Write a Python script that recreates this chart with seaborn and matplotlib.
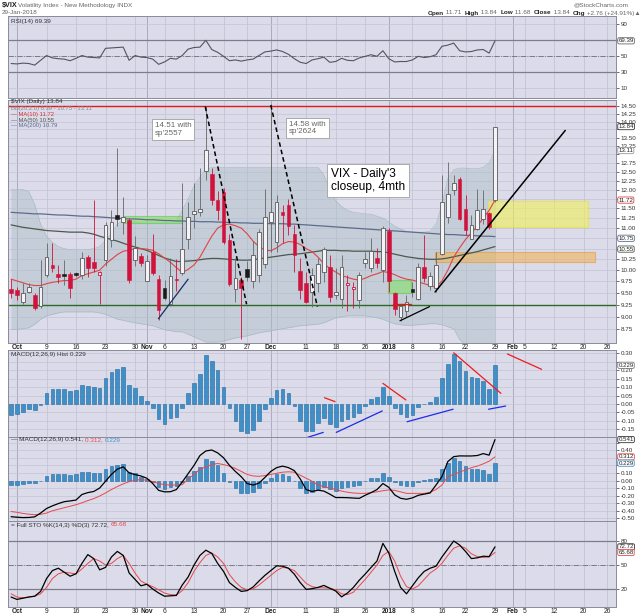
import numpy as np
import pandas as pd
import matplotlib
matplotlib.use("Agg")
import matplotlib.pyplot as plt
import seaborn as sns
from matplotlib.patches import Rectangle
from matplotlib.ticker import FixedLocator, NullLocator, FuncFormatter

sns.set_theme(style="white")
plt.rcParams['font.family'] = ['Liberation Sans', 'DejaVu Sans']

# ---------------- data (trading-day index: 0 = 2 Oct 2017, 81 = 29 Jan 2018) ----------------
bar_idx = list(range(-1, 82))

opens = [9.58, 9.56, 9.30, 9.51, 9.46, 9.22, 9.89, 10.12, 9.91, 9.90, 9.92, 9.93, 9.89, 10.31, 10.19, 9.89,
         10.23, 10.71, 11.32, 11.15, 11.20, 10.24, 10.33, 9.77, 10.41, 9.80, 9.61, 9.26, 9.80, 9.93, 10.74,
         11.35, 11.41, 12.52, 12.44, 11.72, 11.93, 10.70, 9.59, 9.79, 10.03, 9.75, 9.90, 10.14, 11.16, 10.67,
         11.40, 11.60, 10.86, 9.99, 9.72, 9.52, 9.71, 9.97, 10.08, 9.45, 9.37, 9.67, 9.58, 9.35, 10.16, 10.05,
         10.27, 10.01, 10.93, 9.49, 9.00, 9.12, 9.58, 9.37, 10.08, 9.65, 9.60, 10.38, 11.28, 11.98, 12.29,
         11.48, 10.74, 10.97, 11.23, 11.38, 11.71]
highs = [9.80, 9.62, 9.71, 9.71, 9.49, 10.23, 10.64, 10.64, 10.12, 10.23, 9.97, 9.97, 10.43, 10.35, 11.73, 9.99,
         11.15, 11.45, 13.18, 11.79, 11.25, 10.80, 10.40, 10.35, 10.85, 9.89, 9.78, 10.27, 10.25, 12.17, 11.68,
         12.17, 12.60, 14.51, 12.60, 11.95, 12.05, 10.85, 10.27, 9.85, 10.20, 10.68, 10.98, 12.03, 14.58, 11.86,
         11.59, 11.76, 11.08, 10.27, 9.97, 10.05, 10.27, 10.55, 10.35, 10.05, 10.35, 9.89, 9.74, 9.97, 10.43,
         10.75, 10.51, 11.04, 11.00, 9.52, 9.26, 9.45, 9.74, 10.16, 10.83, 9.97, 10.43, 12.40, 12.78, 12.40,
         12.36, 11.86, 11.33, 12.03, 11.99, 11.40, 13.84]
lows = [9.40, 9.34, 9.26, 9.49, 9.13, 9.19, 9.85, 9.95, 9.71, 9.67, 9.40, 9.85, 9.81, 9.85, 9.95, 9.26,
        10.10, 10.55, 11.05, 10.85, 9.72, 10.10, 10.10, 9.75, 9.89, 8.93, 9.35, 9.22, 9.55, 9.89, 10.50,
        11.00, 11.30, 12.27, 11.60, 11.20, 10.60, 9.65, 9.31, 8.56, 9.75, 9.60, 9.74, 10.05, 10.43, 10.43,
        10.63, 10.83, 9.97, 9.37, 9.28, 9.21, 9.52, 9.74, 9.31, 9.37, 9.19, 9.11, 9.19, 9.19, 10.05,
        9.97, 10.05, 9.74, 9.52, 9.04, 8.92, 8.99, 9.42, 9.35, 9.74, 9.56, 9.52, 10.35, 11.14, 11.86,
        11.20, 10.83, 10.74, 10.95, 11.10, 10.98, 11.68]
closes = [9.49, 9.45, 9.50, 9.62, 9.19, 9.62, 10.31, 10.05, 9.84, 9.88, 9.61, 9.90, 10.27, 10.06, 10.04, 9.97,
          11.08, 11.16, 11.23, 11.27, 9.78, 10.51, 10.17, 10.20, 9.93, 9.14, 9.40, 9.87, 9.78, 10.49, 11.28,
          11.43, 11.48, 13.12, 11.72, 11.45, 10.66, 9.70, 9.82, 9.60, 9.84, 10.35, 10.90, 11.28, 11.40, 11.66,
          11.33, 11.04, 10.35, 9.56, 9.31, 9.89, 10.14, 10.50, 9.42, 9.53, 10.08, 9.72, 9.62, 9.89, 10.25,
          10.45, 10.16, 11.01, 9.77, 9.15, 9.22, 9.30, 9.52, 10.07, 9.82, 9.88, 10.12, 11.66, 11.88, 12.19,
          11.24, 10.96, 11.09, 11.45, 11.49, 11.02, 13.84]

ma10 = [9.80, 9.76, 9.72, 9.68, 9.66, 9.66, 9.70, 9.73, 9.75, 9.77, 9.77, 9.80, 9.88, 9.92, 9.96, 10.00,
        10.14, 10.25, 10.36, 10.44, 10.46, 10.50, 10.50, 10.49, 10.46, 10.38, 10.28, 10.18, 10.06, 9.95, 10.02,
        10.12, 10.30, 10.55, 10.80, 11.00, 11.08, 11.10, 11.06, 11.00, 10.86, 10.68, 10.55, 10.47, 10.45, 10.52,
        10.62, 10.67, 10.66, 10.60, 10.50, 10.43, 10.30, 10.15, 10.04, 9.96, 9.88, 9.84, 9.80, 9.78, 9.82,
        9.88, 9.92, 9.97, 9.95, 9.90, 9.84, 9.80, 9.78, 9.74, 9.70, 9.66, 9.62, 9.76, 10.00, 10.30,
        10.52, 10.72, 10.88, 11.05, 11.25, 11.45, 11.72]
ma50 = [11.08, 11.05, 11.02, 11.00, 10.98, 10.96, 10.94, 10.93, 10.92, 10.91, 10.90, 10.90, 10.90, 10.88, 10.85,
        10.80, 10.76, 10.72, 10.68, 10.63, 10.58, 10.54, 10.50, 10.46, 10.40, 10.34, 10.28, 10.24, 10.20, 10.20,
        10.21, 10.22, 10.24, 10.26, 10.27, 10.27, 10.26, 10.25, 10.24, 10.23, 10.23, 10.24, 10.26, 10.28, 10.30,
        10.32, 10.34, 10.36, 10.37, 10.38, 10.40, 10.42, 10.44, 10.46, 10.46, 10.46, 10.45, 10.45, 10.44, 10.44,
        10.44, 10.44, 10.43, 10.43, 10.40, 10.37, 10.34, 10.31, 10.29, 10.27, 10.26, 10.25, 10.25, 10.26, 10.28,
        10.31, 10.34, 10.37, 10.40, 10.43, 10.47, 10.51, 10.55]
ma200 = [11.40, 11.39, 11.38, 11.37, 11.36, 11.36, 11.35, 11.34, 11.33, 11.33, 11.32, 11.31, 11.30, 11.30, 11.29,
         11.28, 11.27, 11.26, 11.25, 11.24, 11.23, 11.23, 11.22, 11.21, 11.21, 11.20, 11.19, 11.19, 11.18, 11.18,
         11.17, 11.17, 11.16, 11.16, 11.16, 11.15, 11.15, 11.14, 11.14, 11.13, 11.13, 11.12, 11.12, 11.12, 11.11,
         11.11, 11.11, 11.10, 11.10, 11.09, 11.08, 11.07, 11.06, 11.05, 11.04, 11.03, 11.02, 11.01, 11.00, 10.99,
         10.98, 10.97, 10.96, 10.95, 10.94, 10.93, 10.92, 10.91, 10.90, 10.89, 10.88, 10.87, 10.86, 10.85, 10.84,
         10.84, 10.83, 10.82, 10.82, 10.81, 10.80, 10.80, 10.79]
bb_upper = [12.00, 12.00, 12.00, 11.95, 11.60, 11.10, 10.80, 10.65, 10.55, 10.50, 10.48, 10.47, 10.47, 10.48, 10.50,
            10.55, 10.70, 10.87, 11.10, 11.18, 11.18, 11.16, 11.15, 11.15, 11.15, 11.15, 11.15, 11.15, 11.20, 11.45,
            11.75, 12.10, 12.35, 12.55, 12.62, 12.62, 12.62, 12.62, 12.62, 12.62, 12.62, 12.62, 12.62, 12.62, 12.62,
            12.62, 12.62, 12.62, 12.62, 12.62, 12.62, 12.62, 12.62, 12.40, 12.00, 11.70, 11.55, 11.45, 11.40, 11.38,
            11.36, 11.35, 11.30, 11.25, 11.15, 11.05, 10.98, 10.92, 10.90, 10.90, 10.90, 10.92, 11.10, 11.60, 12.30,
            12.55, 12.60, 12.60, 12.58, 12.58, 12.62, 12.75, 13.11]
bb_lower = [8.75, 8.75, 8.76, 8.78, 8.85, 8.95, 9.02, 9.05, 9.08, 9.10, 9.10, 9.10, 9.10, 9.10, 9.10,
            9.08, 9.05, 9.00, 8.95, 8.93, 8.90, 8.88, 8.86, 8.84, 8.82, 8.78, 8.74, 8.72, 8.70, 8.70,
            8.65, 8.60, 8.55, 8.50, 8.50, 8.50, 8.52, 8.55, 8.58, 8.60, 8.62, 8.65, 8.68, 8.70, 8.72,
            8.74, 8.76, 8.78, 8.80, 8.82, 8.83, 8.84, 8.85, 8.88, 8.93, 8.98, 9.00, 9.02, 9.02, 9.02,
            9.02, 9.00, 8.98, 8.95, 8.90, 8.86, 8.84, 8.83, 8.83, 8.84, 8.85, 8.86, 8.86, 8.84, 8.80,
            8.76, 8.55, 8.45, 8.42, 8.40, 8.39, 8.39, 8.39]

rsi = [41, 40.5, 41.5, 41, 39, 45, 51, 48, 47, 46.5, 44.5, 47.5, 51, 49, 48.5, 48,
       60, 60.5, 61, 61.5, 45, 51, 49, 48.5, 46.5, 40, 43, 47.5, 46.5, 51, 59,
       61, 61.5, 70, 58.5, 55, 50, 44.5, 45.5, 44, 45.5, 46.5, 51, 55.5, 56.5, 58,
       56, 52.5, 47, 42.5, 41, 45.5, 47, 49, 42.5, 43.5, 47.5, 45, 44.5, 48, 50,
       52, 50, 57, 47, 43, 43.5, 43.5, 45.5, 50, 48.5, 49.5, 52, 62.5, 64, 66.5,
       57, 55.5, 56, 58, 58.5, 54, 69.39]

macd_hist = [-0.065, -0.061, -0.045, -0.030, -0.035, -0.003, 0.063, 0.089, 0.089, 0.089, 0.077, 0.083, 0.110,
             0.107, 0.103, 0.093, 0.152, 0.187, 0.207, 0.217, 0.112, 0.095, 0.045, 0.018, -0.024, -0.091, -0.116,
             -0.085, -0.079, -0.024, 0.065, 0.122, 0.175, 0.290, 0.256, 0.199, 0.103, -0.024, -0.099, -0.162,
             -0.170, -0.154, -0.099, -0.032, 0.034, 0.081, 0.089, 0.063, -0.012, -0.099, -0.160, -0.158, -0.114,
             -0.085, -0.118, -0.134, -0.099, -0.091, -0.079, -0.055, -0.012, 0.030, 0.039, 0.099, 0.049, -0.026,
             -0.059, -0.079, -0.067, -0.020, 0.002, 0.014, 0.039, 0.156, 0.237, 0.296, 0.254, 0.195, 0.158, 0.152,
             0.136, 0.089, 0.229]
macd_line = [-0.478, -0.485, -0.490, -0.488, -0.480, -0.430, -0.370, -0.335, -0.305, -0.280, -0.270, -0.258,
             -0.185, -0.160, -0.145, -0.100, -0.010, 0.080, 0.150, 0.180, 0.100, 0.078, 0.060, 0.030, -0.040,
             -0.130, -0.150, -0.148, -0.120, -0.020, 0.090, 0.200, 0.330, 0.390, 0.403, 0.365, 0.300, 0.200,
             0.120, 0.050, -0.040, -0.060, -0.035, 0.040, 0.120, 0.170, 0.190, 0.170, 0.130, 0.020, -0.120,
             -0.145, -0.128, -0.140, -0.180, -0.225, -0.225, -0.227, -0.232, -0.236, -0.195, -0.160, -0.120,
             -0.040, -0.090, -0.190, -0.235, -0.248, -0.230, -0.195, -0.180, -0.165, -0.060, 0.050, 0.250,
             0.315, 0.325, 0.324, 0.324, 0.330, 0.355, 0.335, 0.541]
macd_signal = [-0.41, -0.42, -0.435, -0.445, -0.452, -0.448, -0.43, -0.40, -0.38, -0.36, -0.34, -0.32, -0.295,
               -0.265, -0.24, -0.205, -0.165, -0.12, -0.08, -0.045, -0.015, 0.005, 0.01, 0.005, -0.015, -0.04,
               -0.055, -0.06, -0.06, -0.055, 0.02, 0.08, 0.15, 0.18, 0.21, 0.225, 0.21, 0.19, 0.16, 0.12, 0.08,
               0.06, 0.055, 0.065, 0.08, 0.095, 0.11, 0.115, 0.11, 0.07, 0.03, -0.01, -0.06, -0.08, -0.10, -0.12,
               -0.14, -0.155, -0.165, -0.17, -0.17, -0.16, -0.15, -0.135, -0.125, -0.13, -0.15, -0.17, -0.17,
               -0.17, -0.17, -0.155, -0.12, -0.06, 0.05, 0.08, 0.11, 0.14, 0.17, 0.19, 0.22, 0.255, 0.312]

sto_k = [10, 7, 8.5, 10, 11, 17, 33, 43, 46, 41, 36, 39, 52, 63, 58, 44, 47, 60, 67, 62, 40, 32, 24, 26,
         20, 15, 11, 11.5, 12, 25, 35, 50, 62, 68.5, 64.5, 52, 42, 28, 22, 17, 18, 22.5, 30, 37, 43, 49,
         48.5, 46, 38.5, 28, 19.5, 20.5, 22, 24.5, 21, 17.5, 10.2, 15, 22, 31, 38.7, 47, 55, 77, 65, 42,
         22, 14, 24, 34, 42, 46, 48.5, 60, 70, 80, 75, 67, 58, 59, 61, 60.5, 72.72]
sto_d = [14, 10, 9, 10, 11, 14, 22, 33, 39, 41, 40, 39, 45, 52, 58, 55, 50, 52, 58, 62, 52, 40, 30, 26,
         23, 19, 15, 13, 12.5, 18, 28, 42, 53, 62, 65, 60, 52, 38, 29, 22, 19, 20, 25, 31, 37, 43,
         47, 46, 43, 35, 27, 23, 21.5, 21.5, 21, 19, 14, 13, 16, 24, 32, 41, 50, 62, 67, 55,
         36, 23, 20, 24, 32, 40, 45, 52, 62, 71, 74, 71, 64, 60.5, 59.5, 60, 65.68]

tick_pos = [0, 5, 10, 15, 20, 22, 25, 30, 35, 39, 43, 49, 54, 59, 63, 67, 72, 76, 81, 84, 86, 91, 96, 100]
tick_labels = ['Oct', '9', '16', '23', '30', 'Nov', '6', '13', '20', '27', 'Dec', '11', '18', '26',
               '2018', '8', '16', '22', '29', 'Feb', '5', '12', '20', '26']
month_labels = ['Oct', 'Nov', 'Dec', '2018', 'Feb']
grid_pos = tick_pos + [44]
month_pos = [0, 22, 43, 63, 84]

# ---------------- layout helpers ----------------
W, H = 640, 614
fig = plt.figure(figsize=(6.4, 6.14), dpi=100)
fig.patch.set_facecolor('white')

BG = '#dbdbea'
GRID = '#c4c4d6'
MONTH = '#a2a2b8'
XL = (-1.525, 101.5)


def ftext(x, y, s, **kw):
    kw.setdefault('fontsize', 4.6)
    kw.setdefault('va', 'center')
    return fig.text(x / W, 1 - y / H, s, **kw)


def panel(top, bottom, yticks, ylim, fmt, log=False, hide=()):
    ax = fig.add_axes([8 / W, 1 - bottom / H, 608 / W, (bottom - top) / H])
    ax.set_facecolor(BG)
    if log:
        ax.set_yscale('log')
    ax.set_xlim(*XL)
    ax.set_ylim(*ylim)
    for s in ax.spines.values():
        s.set_color('#8a8a9c')
        s.set_linewidth(0.7)
    ax.yaxis.tick_right()
    ax.yaxis.set_major_locator(FixedLocator(yticks))
    ax.yaxis.set_minor_locator(NullLocator())
    hidden = [round(h, 4) for h in hide]
    ax.yaxis.set_major_formatter(FuncFormatter(
        lambda v, p: '' if round(v, 4) in hidden else fmt.format(v)))
    ax.tick_params(axis='y', labelsize=4.5, length=2, width=0.5, pad=1.2, colors='#333333')
    ax.set_xticks([])
    for g in grid_pos:
        ax.axvline(g, color=MONTH if g in month_pos else GRID, lw=0.6, zorder=0.5)
    for t in yticks:
        ax.axhline(t, color=GRID, lw=0.5, zorder=0.5)
    ax.set_xlabel('')
    ax.set_ylabel('')
    return ax


def vbox(ax, val, txt, ec):
    ax.text(101.9, val, txt, fontsize=4.4, ha='left', va='center', color='#222222',
            bbox=dict(boxstyle='round,pad=0.1,rounding_size=0.25', fc='white', ec=ec, lw=0.6),
            clip_on=False, zorder=20)


def date_axis(ax):
    ax.set_xticks(tick_pos)
    ax.set_xticklabels(tick_labels)
    ax.tick_params(axis='x', length=0, labelsize=4.8, pad=1.0, colors='#222222')
    for lab in ax.get_xticklabels():
        if lab.get_text() in month_labels:
            lab.set_fontweight('bold')


def seq_text(x, y, parts, size=4.6):
    r = fig.canvas.get_renderer()
    for s, col, wt in parts:
        t = ftext(x, y, s, color=col, fontweight=wt, fontsize=size)
        bb = t.get_window_extent(renderer=r)
        x += bb.width


# ---------------- RSI panel ----------------
ax_rsi = panel(16, 98, [10, 30, 50, 70, 90], (-2.1, 100.4), '{:.0f}', hide=(70,))
ax_rsi.axhline(70, color='#7c7c8e', lw=0.9, zorder=1)
ax_rsi.axhline(30, color='#7c7c8e', lw=0.9, zorder=1)
ax_rsi.axhline(50, color='#6c6c7e', lw=0.6, ls='-.', zorder=1)
sns.lineplot(x=bar_idx, y=rsi, ax=ax_rsi, color='#555560', linewidth=0.8, estimator=None, zorder=3)
ax_rsi.set_xlim(*XL); ax_rsi.set_ylim(-2.1, 100.4); ax_rsi.set_xticks([])
ax_rsi.set_xlabel(''); ax_rsi.set_ylabel('')
vbox(ax_rsi, 69.39, '69.39', '#666666')
ftext(11, 21, 'RSI(14) 69.39', color='#333333')

# ---------------- main price panel ----------------
main_ticks = [8.75, 9.0, 9.25, 9.5, 9.75, 10.0, 10.25, 10.5, 10.75, 11.0, 11.25, 11.5, 11.75, 12.0, 12.25,
              12.5, 12.75, 13.0, 13.25, 13.5, 13.75, 14.0, 14.25, 14.5]
ylim_main = (14.5 * np.exp(-237 / 442), 14.5 * np.exp(6 / 442))
ax = panel(100, 343, main_ticks, ylim_main, '{:.2f}', log=True,
           hide=(13.75, 13.0, 11.75, 10.75, 10.5))

ax.fill_between(bar_idx, bb_lower, bb_upper, color='#a9bec4', alpha=0.45, lw=0, zorder=1)
ax.plot(bar_idx, bb_upper, color='#a3b6be', lw=0.4, zorder=1.1)
ax.plot(bar_idx, bb_lower, color='#a3b6be', lw=0.4, zorder=1.1)

# highlight boxes and levels
ax.axhline(14.5, color='#e01818', lw=1.0, zorder=2)
ax.axhline(9.25, color='#2f6a22', lw=1.0, zorder=2)
boxes = [((18.0, 27.9), (11.12, 11.30), '#86e06a', '#5ccc40'),
         ((62.8, 66.7), (9.49, 9.78), '#86e06a', '#5ccc40'),
         ((79.8, 96.8), (11.02, 11.70), '#f2f25a', '#e6e62a'),
         ((70.8, 97.9), (10.19, 10.42), '#f2b45a', '#e09a3a')]
for (x0, x1), (y0, y1), fc, ec in boxes:
    ax.add_patch(Rectangle((x0, y0), x1 - x0, y1 - y0, fc=fc, ec=ec, lw=0.8, alpha=0.6, zorder=2))
ax.plot([63.7, 66.7], [9.26, 9.26], color='#e01818', lw=1.0, zorder=5)

sns.lineplot(x=bar_idx, y=ma200, ax=ax, color='#5d6c8c', linewidth=0.9, estimator=None, zorder=3)
sns.lineplot(x=bar_idx, y=ma50, ax=ax, color='#4b5a4b', linewidth=0.9, estimator=None, zorder=3)
sns.lineplot(x=bar_idx, y=ma10, ax=ax, color='#e04444', linewidth=0.8, estimator=None, zorder=3)

# candles
RED, BLK, HOL = '#d0123c', '#1a1a1a', '#5a5a5a'
prev = opens[0]
for i, o, h, l, c in zip(bar_idx, opens, highs, lows, closes):
    up_day = c >= prev
    filled = c < o
    col = BLK if up_day else RED
    wick_col = ('#666666' if up_day else RED)
    ax.vlines(i, l, h, color=wick_col, lw=0.6, zorder=4)
    lo, hi = min(o, c), max(o, c)
    if hi / lo < 1.004:
        mid = np.sqrt(hi * lo)
        lo, hi = mid / 1.002, mid * 1.002
    if filled:
        ax.add_patch(Rectangle((i - 0.31, lo), 0.62, hi - lo, fc=col, ec=col, lw=0.4, zorder=4.5))
    else:
        ax.add_patch(Rectangle((i - 0.31, lo), 0.62, hi - lo, fc='#f3f3f7',
                               ec=(HOL if up_day else RED), lw=0.6, zorder=4.5))
    prev = c

# trend lines
ax.plot([70.85, 92.9], [9.52, 13.72], color='black', lw=1.1, zorder=6)
ax.plot([23.96, 29.0], [8.96, 9.80], color='#1c2a6a', lw=0.9, zorder=6)
ax.plot([64.9, 69.9], [8.92, 9.21], color='black', lw=0.9, zorder=6)
ax.plot([31.9, 38.9], [14.48, 9.26], color='black', lw=1.1, ls=(0, (3, 2)), zorder=6)
ax.plot([43.0, 50.9], [14.53, 9.21], color='black', lw=1.1, ls=(0, (3, 2)), zorder=6)

ax.text(23.3, 13.98, "14.51 with\nsp'2557", fontsize=5.8, color='#666666', va='top', ha='left',
        linespacing=1.15, zorder=8,
        bbox=dict(boxstyle='square,pad=0.35', fc='white', ec='#a0a0a0', lw=0.6))
ax.text(46.1, 14.03, "14.58 with\nsp'2624", fontsize=5.8, color='#666666', va='top', ha='left',
        linespacing=1.15, zorder=8,
        bbox=dict(boxstyle='square,pad=0.35', fc='white', ec='#a0a0a0', lw=0.6))
ax.text(53.2, 12.60, "VIX - Daily'3\ncloseup, 4mth", fontsize=8.6, color='black', va='top', ha='left',
        linespacing=1.1, zorder=8,
        bbox=dict(boxstyle='square,pad=0.3', fc='white', ec='#a0a0a0', lw=0.6))

ax.set_xlim(*XL); ax.set_ylim(*ylim_main)
ax.set_xlabel(''); ax.set_ylabel('')
date_axis(ax)
vbox(ax, 13.84, '13.84', '#333333')
vbox(ax, 13.11, '13.11', '#999999')
vbox(ax, 11.72, '11.72', '#e04444')
vbox(ax, 10.75, '10.75', '#5d6c8c')
vbox(ax, 10.49, '10.55', '#4b5a4b')

ftext(11, 102, '$VIX (Daily) 13.84', color='#333333')
ftext(11, 108.5, 'BB(20,2.0) 8.39 - 10.75 - 13.11', color='#888888', fontsize=4.2)
ftext(11, 114.5, '\u2014 MA(10) 11.72', color='#d83030', fontsize=4.2)
ftext(11, 120.2, '\u2014 MA(50) 10.55', color='#4b5a4b', fontsize=4.2)
ftext(11, 126, '\u2014 MA(200) 10.79', color='#5d6c8c', fontsize=4.2)

# ---------------- MACD histogram panel ----------------
hist_ticks = [-0.15, -0.10, -0.05, 0.0, 0.05, 0.10, 0.15, 0.20, 0.25, 0.30]
ax_h = panel(350, 436.7, hist_ticks, (-0.1935, 0.3195), '{:.2f}', hide=(0.25,))
ax_h.bar(bar_idx, macd_hist, width=0.62, color='#3f90c8', edgecolor='#23699c', linewidth=0.4, zorder=3)
red_marks = [((52.1, 53.9), (0.037, 0.014)), ((62.0, 65.9), (0.122, 0.024)),
             ((74.0, 82.0), (0.303, 0.063)), ((83.1, 88.9), (0.296, 0.205))]
blue_marks = [((49.1, 51.9), (-0.199, -0.168)), ((54.1, 61.9), (-0.168, -0.041)),
              ((66.1, 73.9), (-0.105, -0.031)), ((79.9, 82.8), (-0.031, -0.012))]
for xs, ys in red_marks:
    ax_h.plot(xs, ys, color='#ee1c1c', lw=0.9, zorder=5)
for xs, ys in blue_marks:
    ax_h.plot(xs, ys, color='#1c2ce8', lw=0.9, zorder=5)
vbox(ax_h, 0.229, '0.229', '#777777')
ftext(11, 354.5, 'MACD(12,26,9) Hist 0.229', color='#333333')

# ---------------- MACD panel ----------------
macd_ticks = [-0.5, -0.4, -0.3, -0.2, -0.1, 0.0, 0.1, 0.2, 0.3, 0.4, 0.5]
ax_m = panel(436.7, 521, macd_ticks, (-0.535, 0.5786), '{:.2f}', hide=(0.5, 0.3, 0.2))
ax_m.bar(bar_idx, macd_hist, width=0.62, color='#3f90c8', edgecolor='#23699c', linewidth=0.4, zorder=3)
sns.lineplot(x=bar_idx, y=macd_signal, ax=ax_m, color='#e84848', linewidth=0.7, estimator=None, zorder=4)
sns.lineplot(x=bar_idx, y=macd_line, ax=ax_m, color='black', linewidth=0.9, estimator=None, zorder=5)
ax_m.set_xlim(*XL); ax_m.set_ylim(-0.535, 0.5786); ax_m.set_xticks([])
ax_m.set_xlabel(''); ax_m.set_ylabel('')
vbox(ax_m, 0.541, '0.541', '#333333')
vbox(ax_m, 0.312, '0.312', '#e84848')
vbox(ax_m, 0.229, '0.229', '#3f90c8')
seq_text(11, 440, [('\u2014 MACD(12,26,9) 0.541, ', '#333333', 'normal'),
                   ('0.312, ', '#e84848', 'normal'), ('0.229', '#3f90c8', 'normal')])

# ---------------- Full STO panel ----------------
ax_s = panel(521, 606.7, [20, 50, 80], (-2.1, 105), '{:.0f}')
ax_s.axhline(80, color='#7c7c8e', lw=0.9, zorder=1)
ax_s.axhline(20, color='#7c7c8e', lw=0.9, zorder=1)
ax_s.axhline(50, color='#6c6c7e', lw=0.6, ls='-.', zorder=1)
sns.lineplot(x=bar_idx, y=sto_d, ax=ax_s, color='#e84848', linewidth=0.7, estimator=None, zorder=4)
sns.lineplot(x=bar_idx, y=sto_k, ax=ax_s, color='black', linewidth=0.9, estimator=None, zorder=5)
ax_s.set_xlim(*XL); ax_s.set_ylim(-2.1, 105)
ax_s.set_xlabel(''); ax_s.set_ylabel('')
date_axis(ax_s)
vbox(ax_s, 72.72, '72.72', '#333333')
vbox(ax_s, 65.68, '65.68', '#e84848')
seq_text(11, 525, [('= Full STO %K(14,3) %D(3) 72.72, ', '#333333', 'normal'),
                   ('65.68', '#e84848', 'normal')])

# ---------------- header ----------------
ftext(2, 5, '$VIX', fontsize=5.2, fontweight='bold', color='#222222')
ftext(18, 5, 'Volatility Index - New Methodology INDX', color='#666666')
ftext(2, 13, '29-Jan-2018', color='#666666')
ftext(629, 5, '@StockCharts.com', ha='right', color='#666666')
seq_text(428, 13, [('Open', '#222222', 'bold'), (' 11.71  ', '#666666', 'normal'),
                   ('High', '#222222', 'bold'), (' 13.84  ', '#666666', 'normal'),
                   ('Low', '#222222', 'bold'), (' 11.68  ', '#666666', 'normal'),
                   ('Close', '#222222', 'bold'), (' 13.84  ', '#666666', 'normal'),
                   ('Chg', '#222222', 'bold'), (' +2.76 (+24.91%)\u25b2', '#666666', 'normal')])

fig.savefig('out.png', dpi=100, facecolor='white')
